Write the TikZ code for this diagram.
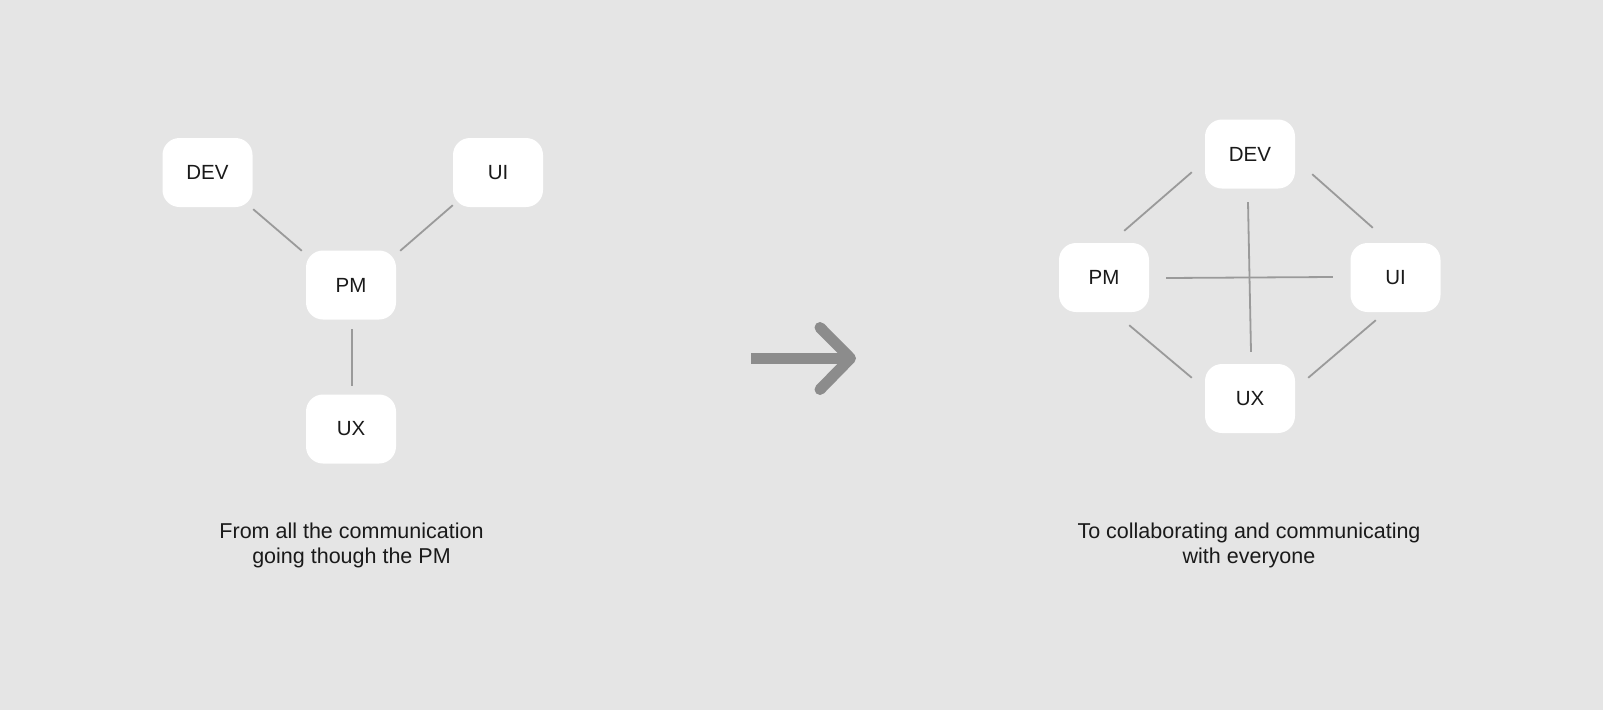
\documentclass[tikz,border=0pt]{standalone}
\usepackage{fontspec}
\setmainfont{Liberation Sans}
\definecolor{bg}{HTML}{E5E5E5}
\definecolor{linec}{HTML}{9A9A9A}
\definecolor{arrowc}{HTML}{8C8C8C}
\definecolor{txt}{HTML}{1A1A1A}
\tikzset{
  box/.style={fill=white, draw=none, rounded corners=17pt, minimum width=90pt, minimum height=69pt, inner sep=0pt, text=txt, font=\fontsize{20.5}{24}\selectfont},
  conn/.style={draw=linec, line width=1.8pt},
  caption/.style={align=center, text=txt, font=\fontsize{21.5}{25}\selectfont, inner sep=0pt},
  bigarrow/.style={draw=arrowc, line width=11pt}
}
\begin{document}
\begin{tikzpicture}[x=1pt,y=-1pt]
\fill[bg] (0,0) rectangle (1603,710);
\useasboundingbox (0,0) rectangle (1603,710);
% left diagram
\node[box] (ldev) at (207.5,172.5) {DEV};
\node[box] (lui) at (498,172.5) {UI};
\node[box] (lpm) at (351,285) {PM};
\node[box] (lux) at (351,429) {UX};
\draw[conn] ([shift={(0.5,2)}]ldev.south east) -- ([shift={(-4,0.5)}]lpm.north west);
\draw[conn] ([shift={(0,-2)}]lui.south west) -- ([shift={(4,0.5)}]lpm.north east);
\draw[conn] ([shift={(1,9.5)}]lpm.south) -- ([shift={(1,-8.5)}]lux.north);
\node[caption] (lcap) at (351.5,545) {From all the communication\\going though the PM};
% arrow
\coordinate (as) at (751,358.3);
\coordinate (at) at (850.5,358.3);
\coordinate (au) at (820,327.5);
\coordinate (ad) at (820,389.5);
\draw[bigarrow, line cap=butt] (as) -- (at);
\draw[bigarrow, line cap=round, line join=round] (au) -- (at) -- (ad);
% right diagram
\node[box] (rdev) at (1250,154) {DEV};
\node[box] (rpm) at (1104,277.5) {PM};
\node[box] (rui) at (1395.5,277.5) {UI};
\node[box] (rux) at (1250,398.5) {UX};
\draw[conn] ([shift={(-13,-16.5)}]rdev.south west) -- ([shift={(-25,-12)}]rpm.north east);
\draw[conn] ([shift={(17,-14.5)}]rdev.south east) -- ([shift={(22.5,-15)}]rui.north west);
\draw[conn] ([shift={(-20,13)}]rpm.south east) -- ([shift={(-13,14)}]rux.north west);
\draw[conn] ([shift={(25.5,8)}]rui.south west) -- ([shift={(13,14)}]rux.north east);
\draw[conn] ([shift={(17,0.5)}]rpm.east) -- ([shift={(-17.5,-0.5)}]rui.west);
\draw[conn] ([shift={(-2,13.5)}]rdev.south) -- ([shift={(1,-12)}]rux.north);
\node[caption] (rcap) at (1249,545) {To collaborating and communicating\\with everyone};
\end{tikzpicture}
\end{document}
